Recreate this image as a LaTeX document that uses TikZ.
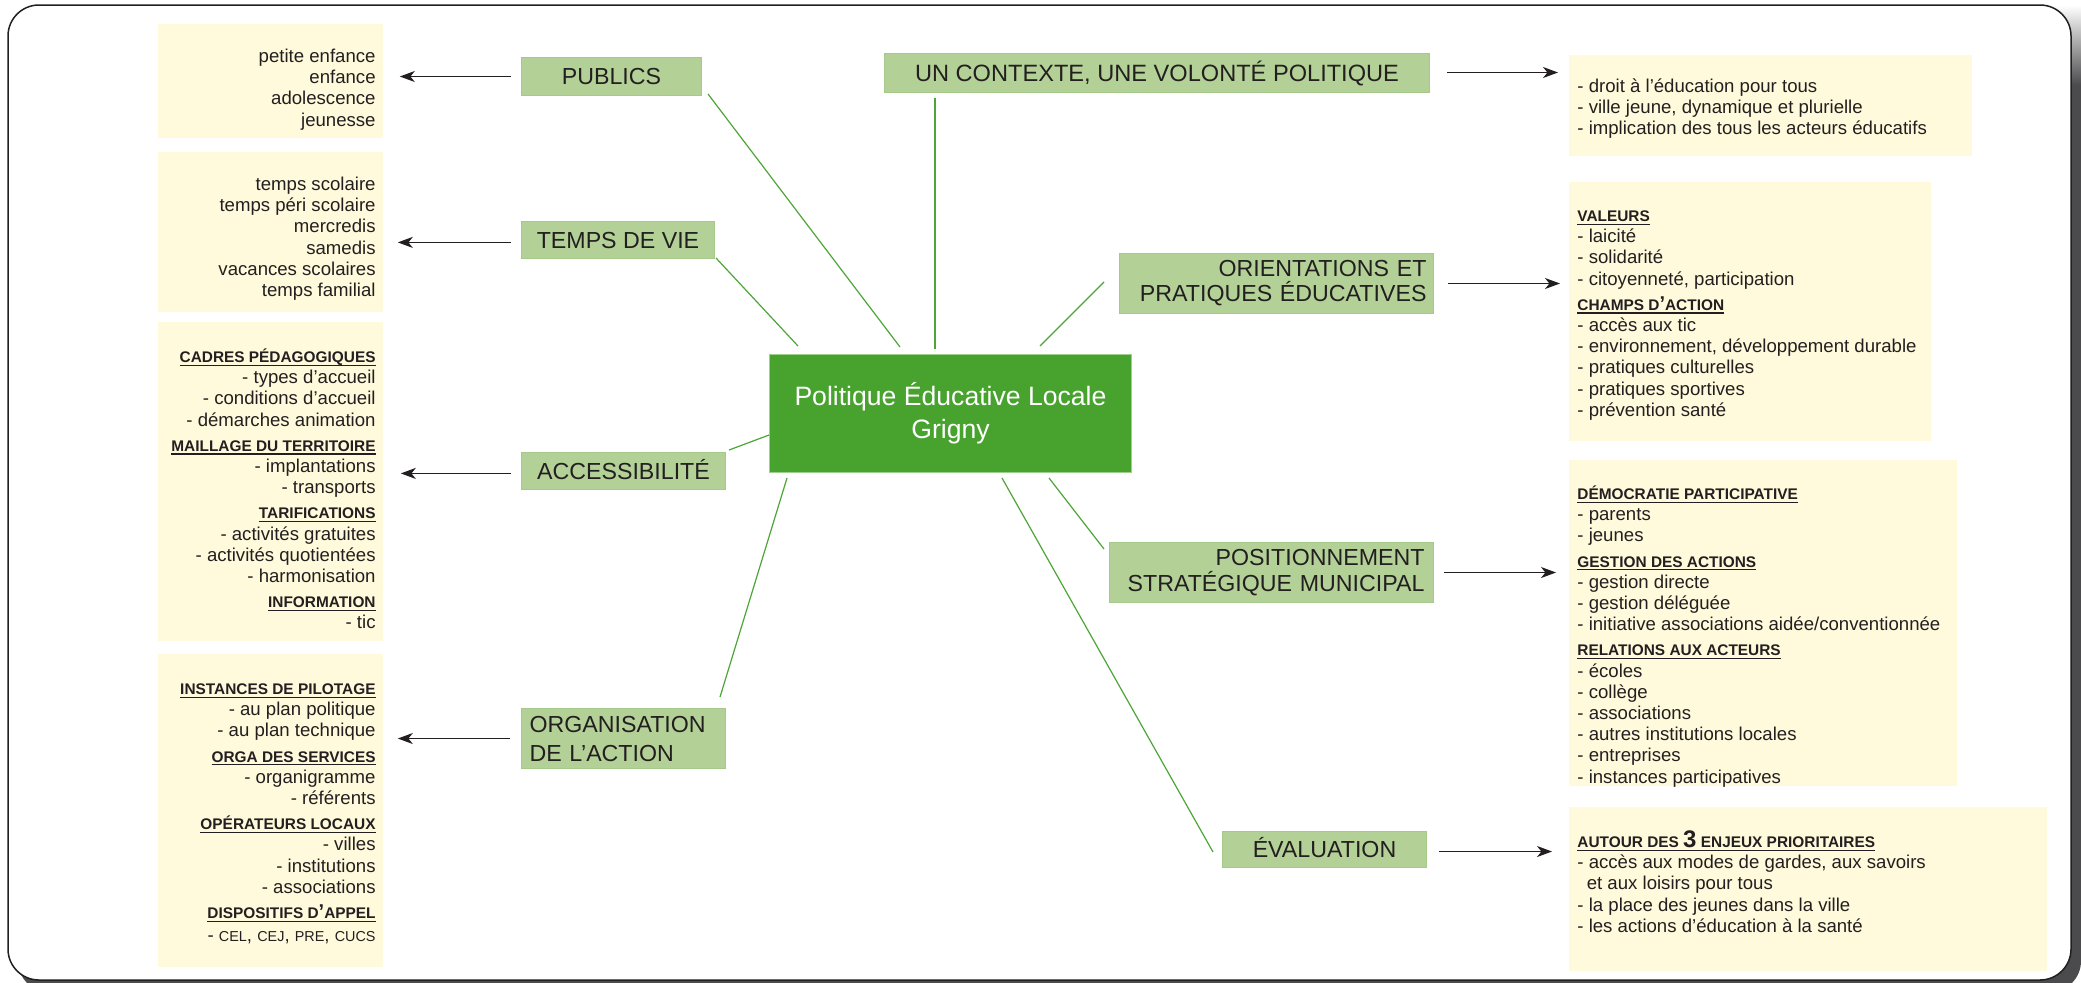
\documentclass[tikz,border=0pt]{standalone}
\usepackage{fontspec}
\setmainfont{Liberation Sans}
\usetikzlibrary{arrows.meta}
\definecolor{yfill}{HTML}{FFFADB}
\definecolor{gfill}{HTML}{B3D197}
\definecolor{gline}{HTML}{A4C98A}
\definecolor{cfill}{HTML}{47A22E}
\definecolor{cline}{HTML}{9FCF8C}
\definecolor{lgreen}{HTML}{4CA637}
\definecolor{txt}{HTML}{231F20}
\definecolor{shadowc}{HTML}{4B4B4D}
\newcommand\btxt{\fontsize{9.3}{10.6}\selectfont}
\newcommand\gtxt{\fontsize{11.6}{13}\selectfont}
\newcommand\ctxt{\fontsize{13.3}{16.5}\selectfont}
\newcommand\hfnt{\fontsize{7.7}{10.6}\selectfont\bfseries}
\newcommand\hd[1]{{\hfnt\setbox0=\hbox{#1}\rlap{\rule[-1.7pt]{\wd0}{0.6pt}}\box0}}
\newcommand\apos{{\fontsize{10}{10}\selectfont ’}}
\newcommand\sctx[1]{{\fontsize{7.2}{10.6}\selectfont #1}}
\newcommand\fst{\rule{0pt}{10pt}}
\begin{document}
\begin{tikzpicture}[x=0.5pt,y=-0.5pt,
 ybox/.style={fill=yfill,draw=none,inner sep=0pt,anchor=north west},
 gbox/.style={fill=gfill,draw=gline,line width=0.5pt,inner sep=0pt,anchor=north west,font=\gtxt,text=txt},
 oneline/.style={text height=8.3pt,text depth=0pt},
 ltext/.style={anchor=north east,align=right,inner sep=0pt,font=\btxt,text=txt},
 rtext/.style={anchor=north west,align=left,inner sep=0pt,font=\btxt,text=txt},
 conn/.style={draw=lgreen,line width=0.6pt},
 arr/.style={draw=txt,line width=0.65pt,-{Stealth[length=7.5pt,width=5.5pt,inset=2.2pt]}}
]
\useasboundingbox (0,0) rectangle (2081,982);
% frame with shadow
\fill[shadowc,rounded corners=15.5pt] (18,14) rectangle (2081,992);
\begin{scope}
\clip (1990,0) rectangle (2081,90);
\shade[top color=white,bottom color=shadowc] (1990,5) rectangle (2081,85);
\end{scope}
\draw[txt,line width=0.75pt,fill=white,rounded corners=15.5pt] (8,5) rectangle (2071,980);

% yellow boxes
\node[ybox,minimum width=112.5pt,minimum height=57pt] (y1) at (158,24) {};
\node[ybox,minimum width=112.5pt,minimum height=80pt] (y2) at (158,152) {};
\node[ybox,minimum width=112.5pt,minimum height=159.5pt] (y3) at (158,322) {};
\node[ybox,minimum width=112.5pt,minimum height=156.5pt] (y4) at (158,654) {};
\node[ybox,minimum width=201.5pt,minimum height=50.5pt] (yA) at (1569,55) {};
\node[ybox,minimum width=181pt,minimum height=129.5pt] (yB) at (1569,182) {};
\node[ybox,minimum width=194pt,minimum height=163pt] (yC) at (1569,460) {};
\node[ybox,minimum width=239pt,minimum height=82pt] (yD) at (1569,807) {};

% yellow box texts
\node[ltext] (t1) at (376,42) {\fst petite enfance\\enfance\\adolescence\\jeunesse};
\node[ltext] (t2) at (376,170) {\fst temps scolaire\\temps péri scolaire\\mercredis\\samedis\\vacances scolaires\\temps familial};
\node[ltext] (t3) at (376,342) {\fst\hd{CADRES PÉDAGOGIQUES}\\
- types d’accueil\\
- conditions d’accueil\\
- démarches animation\\[2pt]
\hd{MAILLAGE DU TERRITOIRE}\\
- implantations\\
- transports\\[2pt]
\hd{TARIFICATIONS}\\
- activités gratuites\\
- activités quotientées\\
- harmonisation\\[2pt]
\hd{INFORMATION}\\
- tic};
\node[ltext] (t4) at (376,674) {\fst\hd{INSTANCES DE PILOTAGE}\\
- au plan politique\\
- au plan technique\\[2pt]
\hd{ORGA DES SERVICES}\\
- organigramme\\
- référents\\[2pt]
\hd{OPÉRATEURS LOCAUX}\\
- villes\\
- institutions\\
- associations\\[2pt]
\hd{DISPOSITIFS D\apos APPEL}\\[1pt]
- \sctx{CEL}, \sctx{CEJ}, \sctx{PRE}, \sctx{CUCS}};
\node[rtext] (tA) at (1577,72) {\fst - droit à l’éducation pour tous\\
- ville jeune, dynamique et plurielle\\
- implication des tous les acteurs éducatifs};
\node[rtext] (tB) at (1577,201) {\fst\hd{VALEURS}\\
- laicité\\
- solidarité\\
- citoyenneté, participation\\[2pt]
\hd{CHAMPS D\apos ACTION}\\
- accès aux tic\\
- environnement, développement durable\\
- pratiques culturelles\\
- pratiques sportives\\
- prévention santé};
\node[rtext] (tC) at (1577,479) {\fst\hd{DÉMOCRATIE PARTICIPATIVE}\\
- parents\\
- jeunes\\[2pt]
\hd{GESTION DES ACTIONS}\\
- gestion directe\\
- gestion déléguée\\
- initiative associations aidée/conventionnée\\[2pt]
\hd{RELATIONS AUX ACTEURS}\\
- écoles\\
- collège\\
- associations\\
- autres institutions locales\\
- entreprises\\
- instances participatives};
\node[rtext] (tD) at (1577,827) {\fst\hd{AUTOUR DES {\fontsize{12}{12}\selectfont 3} ENJEUX PRIORITAIRES}\\
- accès aux modes de gardes, aux savoirs\\
\hspace*{4.7pt}et aux loisirs pour tous\\
- la place des jeunes dans la ville\\
- les actions d’éducation à la santé};

% green boxes
\node[gbox,oneline,minimum width=90pt,minimum height=19pt] (publics) at (521,57) {PUBLICS};
\node[gbox,oneline,minimum width=96.5pt,minimum height=18.5pt] (temps) at (521,221) {TEMPS DE VIE};
\node[gbox,oneline,minimum width=102pt,minimum height=18.5pt] (access) at (521,452) {ACCESSIBILITÉ};
\node[gbox,minimum width=102pt,minimum height=30pt,inner xsep=4pt,text width=94pt,align=left,font=\fontsize{11.6}{14.5}\selectfont] (orga) at (521,708) {ORGANISATION\\DE L’ACTION};
\node[gbox,oneline,minimum width=272.5pt,minimum height=19.5pt,font=\fontsize{11.8}{13}\selectfont] (contexte) at (884,53) {UN CONTEXTE, UNE VOLONTÉ POLITIQUE};
\node[gbox,minimum width=157pt,minimum height=30pt,inner xsep=3.5pt,text width=150pt,align=right,font=\fontsize{11.6}{12.5}\selectfont] (orient) at (1119,253) {ORIENTATIONS ET\\PRATIQUES ÉDUCATIVES};
\node[gbox,minimum width=162pt,minimum height=30pt,inner xsep=4.5pt,text width=153pt,align=right,font=\fontsize{11.6}{13}\selectfont] (position) at (1109,542) {POSITIONNEMENT\\STRATÉGIQUE MUNICIPAL};
\node[gbox,oneline,minimum width=102pt,minimum height=18pt] (eval) at (1222,831) {ÉVALUATION};

% central node
\node[fill=cfill,draw=cline,line width=0.5pt,anchor=north west,minimum width=181pt,minimum height=59pt,inner sep=0pt,align=center,font=\ctxt,text=white] (center) at (769,354) {Politique Éducative Locale\\Grigny};

% green connectors
\coordinate (pA) at (708,94);   \coordinate (pB) at (900,347);
\coordinate (tvA) at (716,258); \coordinate (tvB) at (798,346);
\coordinate (ucA) at (935,98);  \coordinate (ucB) at (935,349);
\coordinate (orA) at (1104,282); \coordinate (orB) at (1040,346);
\coordinate (acA) at (729,450); \coordinate (acB) at (769,435);
\coordinate (ogA) at (720,697); \coordinate (ogB) at (787,478);
\coordinate (evA) at (1213,852); \coordinate (evB) at (1002,478);
\coordinate (poA) at (1104,549); \coordinate (poB) at (1049,478);
\draw[conn] (pA) -- (pB);
\draw[conn] (tvA) -- (tvB);
\draw[conn] (ucA) -- (ucB);
\draw[conn] (orA) -- (orB);
\draw[conn] (acA) -- (acB);
\draw[conn] (ogA) -- (ogB);
\draw[conn] (evA) -- (evB);
\draw[conn] (poA) -- (poB);

% arrows
\draw[arr,shorten <=5pt,shorten >=8pt] (publics.west) -- (publics.west -| y1.east);
\draw[arr,shorten <=5pt,shorten >=7pt] ([yshift=-1.2pt]temps.west) -- ([yshift=-1.2pt]temps.west -| y2.east);
\draw[arr,shorten <=5pt,shorten >=8.5pt] ([yshift=-1.2pt]access.west) -- ([yshift=-1.2pt]access.west -| y3.east);
\draw[arr,shorten <=5.5pt,shorten >=7pt] (orga.west) -- (orga.west -| y4.east);
\draw[arr,shorten <=8.5pt,shorten >=5.5pt] ([yshift=0.25pt]contexte.east) -- ([yshift=0.25pt]contexte.east -| yA.west);
\draw[arr,shorten <=7pt,shorten >=4.5pt] (orient.east) -- (orient.east -| yB.west);
\draw[arr,shorten <=5pt,shorten >=6.5pt] (position.east) -- (position.east -| yC.west);
\draw[arr,shorten <=6pt,shorten >=8.5pt] ([yshift=-1pt]eval.east) -- ([yshift=-1pt]eval.east -| yD.west);
\end{tikzpicture}
\end{document}
